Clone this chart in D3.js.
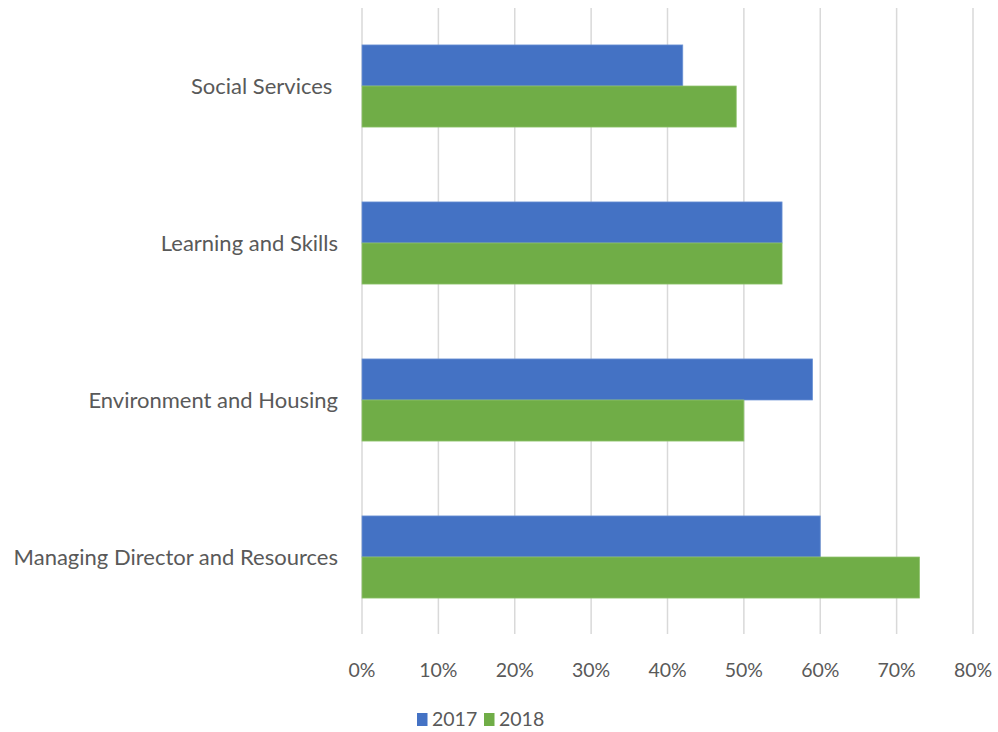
<!DOCTYPE html>
<html><head><meta charset="utf-8">
<script src="https://cdn.jsdelivr.net/npm/d3@7"></script>
<style>body{margin:0;background:#fff}text{font-family:Lato,"Open Sans",sans-serif;fill:#595959;white-space:pre}</style>
</head><body><svg id="c" width="998" height="732"></svg>
<script>
const categories = ["Social Services ", "Learning and Skills", "Environment and Housing", "Managing Director and Resources"];
const series = ["2017", "2018"];
const values2017 = [0.42, 0.55, 0.59, 0.60];
const values2018 = [0.49, 0.55, 0.50, 0.73];
const colors = ["#4472C4", "#70AD47"];
const strokes = ["#6f95d6", "#8fc26d"];
const ticks = [0,0.1,0.2,0.3,0.4,0.5,0.6,0.7,0.8];

const svg = d3.select("#c");
const L = 362, R = 973, T = 7.5, B = 635.5;
const x = d3.scaleLinear().domain([0,0.8]).range([L,R]);
const y = d3.scaleBand().domain(categories).range([T,B]).paddingInner(0.477).paddingOuter(0.2385);
const ys = d3.scaleBand().domain(series).range([0,y.bandwidth()]);

svg.append("g").selectAll("line").data(ticks).join("line")
  .attr("x1",d=>x(d)).attr("x2",d=>x(d)).attr("y1",8).attr("y2",634)
  .attr("stroke","#d9d9d9").attr("stroke-width",1.5);

const data = [values2017, values2018];
series.forEach((s,i)=>{
  svg.append("g").selectAll("rect").data(categories).join("rect")
    .attr("x",x(0)).attr("y",c=>y(c)+ys(s))
    .attr("width",(c,j)=>x(data[i][j])-x(0)).attr("height",ys.bandwidth())
    .attr("fill",colors[i]).attr("stroke",strokes[i]).attr("stroke-width",0.75);
});

svg.append("g").selectAll("text").data(categories).join("text")
  .attr("x",L-24).attr("y",c=>y(c)+y.bandwidth()/2).attr("dy","0.35em")
  .attr("text-anchor","end").attr("font-size",22).text(c=>c);

svg.append("g").selectAll("text").data(ticks).join("text")
  .attr("x",d=>x(d)).attr("y",670).attr("dy","0.35em")
  .attr("text-anchor","middle").attr("font-size",19.5).text(d=>d3.format(".0%")(d));

const leg = svg.append("g");
const lx = [417, 484];
series.forEach((s,i)=>{
  leg.append("rect").attr("x",lx[i]).attr("y",713).attr("width",10.5).attr("height",13).attr("fill",colors[i]);
  leg.append("text").attr("x",lx[i]+15).attr("y",719.5).attr("dy","0.35em").attr("font-size",19.5).text(s);
});
</script></body></html>
